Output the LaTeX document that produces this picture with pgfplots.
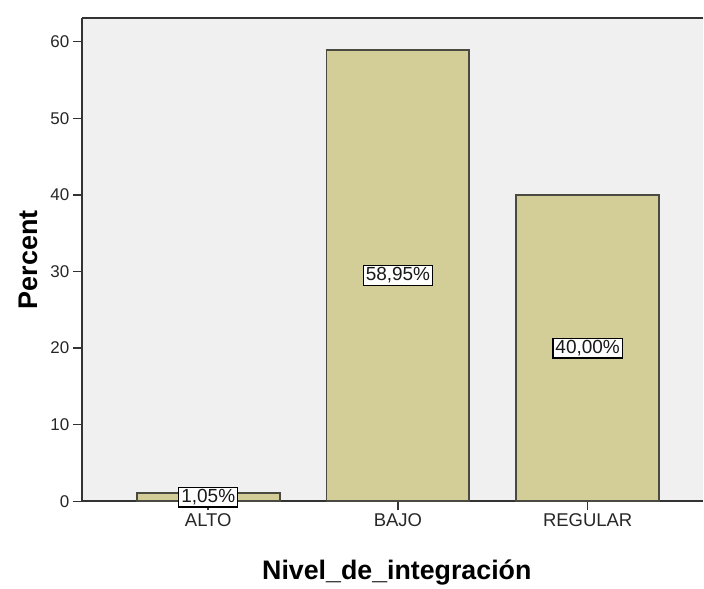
\documentclass[border=0pt]{standalone}
\usepackage{fontspec}
\setmainfont{Liberation Sans}
\usepackage{pgfplots}
\pgfplotsset{compat=1.18}
\definecolor{plotbg}{HTML}{F0F0F0}
\definecolor{barfill}{HTML}{D3CE97}
\definecolor{axisgray}{HTML}{333333}
\definecolor{baredge}{HTML}{4A4A40}
\begin{document}
\begin{tikzpicture}
\begin{axis}[
    name=ax,
    scale only axis,
    width=622pt,
    height=484pt,
    xmin=-0.666, xmax=2.608,
    ymin=0, ymax=63.1,
    separate axis lines,
    axis x line=box,
    axis y line=left,
    axis line style={-, line width=2pt, draw=axisgray},
    axis background/.style={fill=plotbg},
    xtick={0,1,2},
    xticklabels={ALTO,BAJO,REGULAR},
    ytick={0,10,20,30,40,50,60},
    xtick pos=bottom,
    ytick pos=left,
    tick align=outside,
    major tick length=9pt,
    tick style={line width=1.5pt, draw=axisgray},
    /pgf/number format/assume math mode=true,
    yticklabel style={font=\fontsize{17}{19}\selectfont, text=black!85},
    xticklabel style={font=\fontsize{18.5}{20}\selectfont, text=black!85},
    ylabel={Percent},
    xlabel={Nivel\_de\_integración},
    every axis y label/.style={at={(axis description cs:0,0.5)}, xshift=-54pt, rotate=90, anchor=center, font=\bfseries\fontsize{27}{29}\selectfont},
    every axis x label/.style={at={(axis description cs:0.507,0)}, yshift=-78pt, anchor=base, font=\bfseries\fontsize{26.8}{29}\selectfont},
    clip=false,
]
\addplot[ybar, bar width=0.753, fill=barfill, draw=baredge, line width=1.8pt]
    coordinates {(0,1.05) (1,58.95) (2,40.00)};
\addplot[draw=none, mark=none, nodes near coords, point meta=explicit symbolic,
    every node near coord/.style={anchor=center, fill=white, draw=black, line width=1.3pt,
        inner xsep=2.5pt, inner ysep=2pt, text=black!90, font=\fontsize{19}{21}\selectfont}]
    coordinates {(0,0.525)[1,05\%] (1,29.475)[58,95\%] (2,20)[40,00\%]};
\end{axis}
\path (ax.south west) ++(-82pt,-83pt);
\path (ax.north west) ++(0pt,18pt);
\end{tikzpicture}
\end{document}
